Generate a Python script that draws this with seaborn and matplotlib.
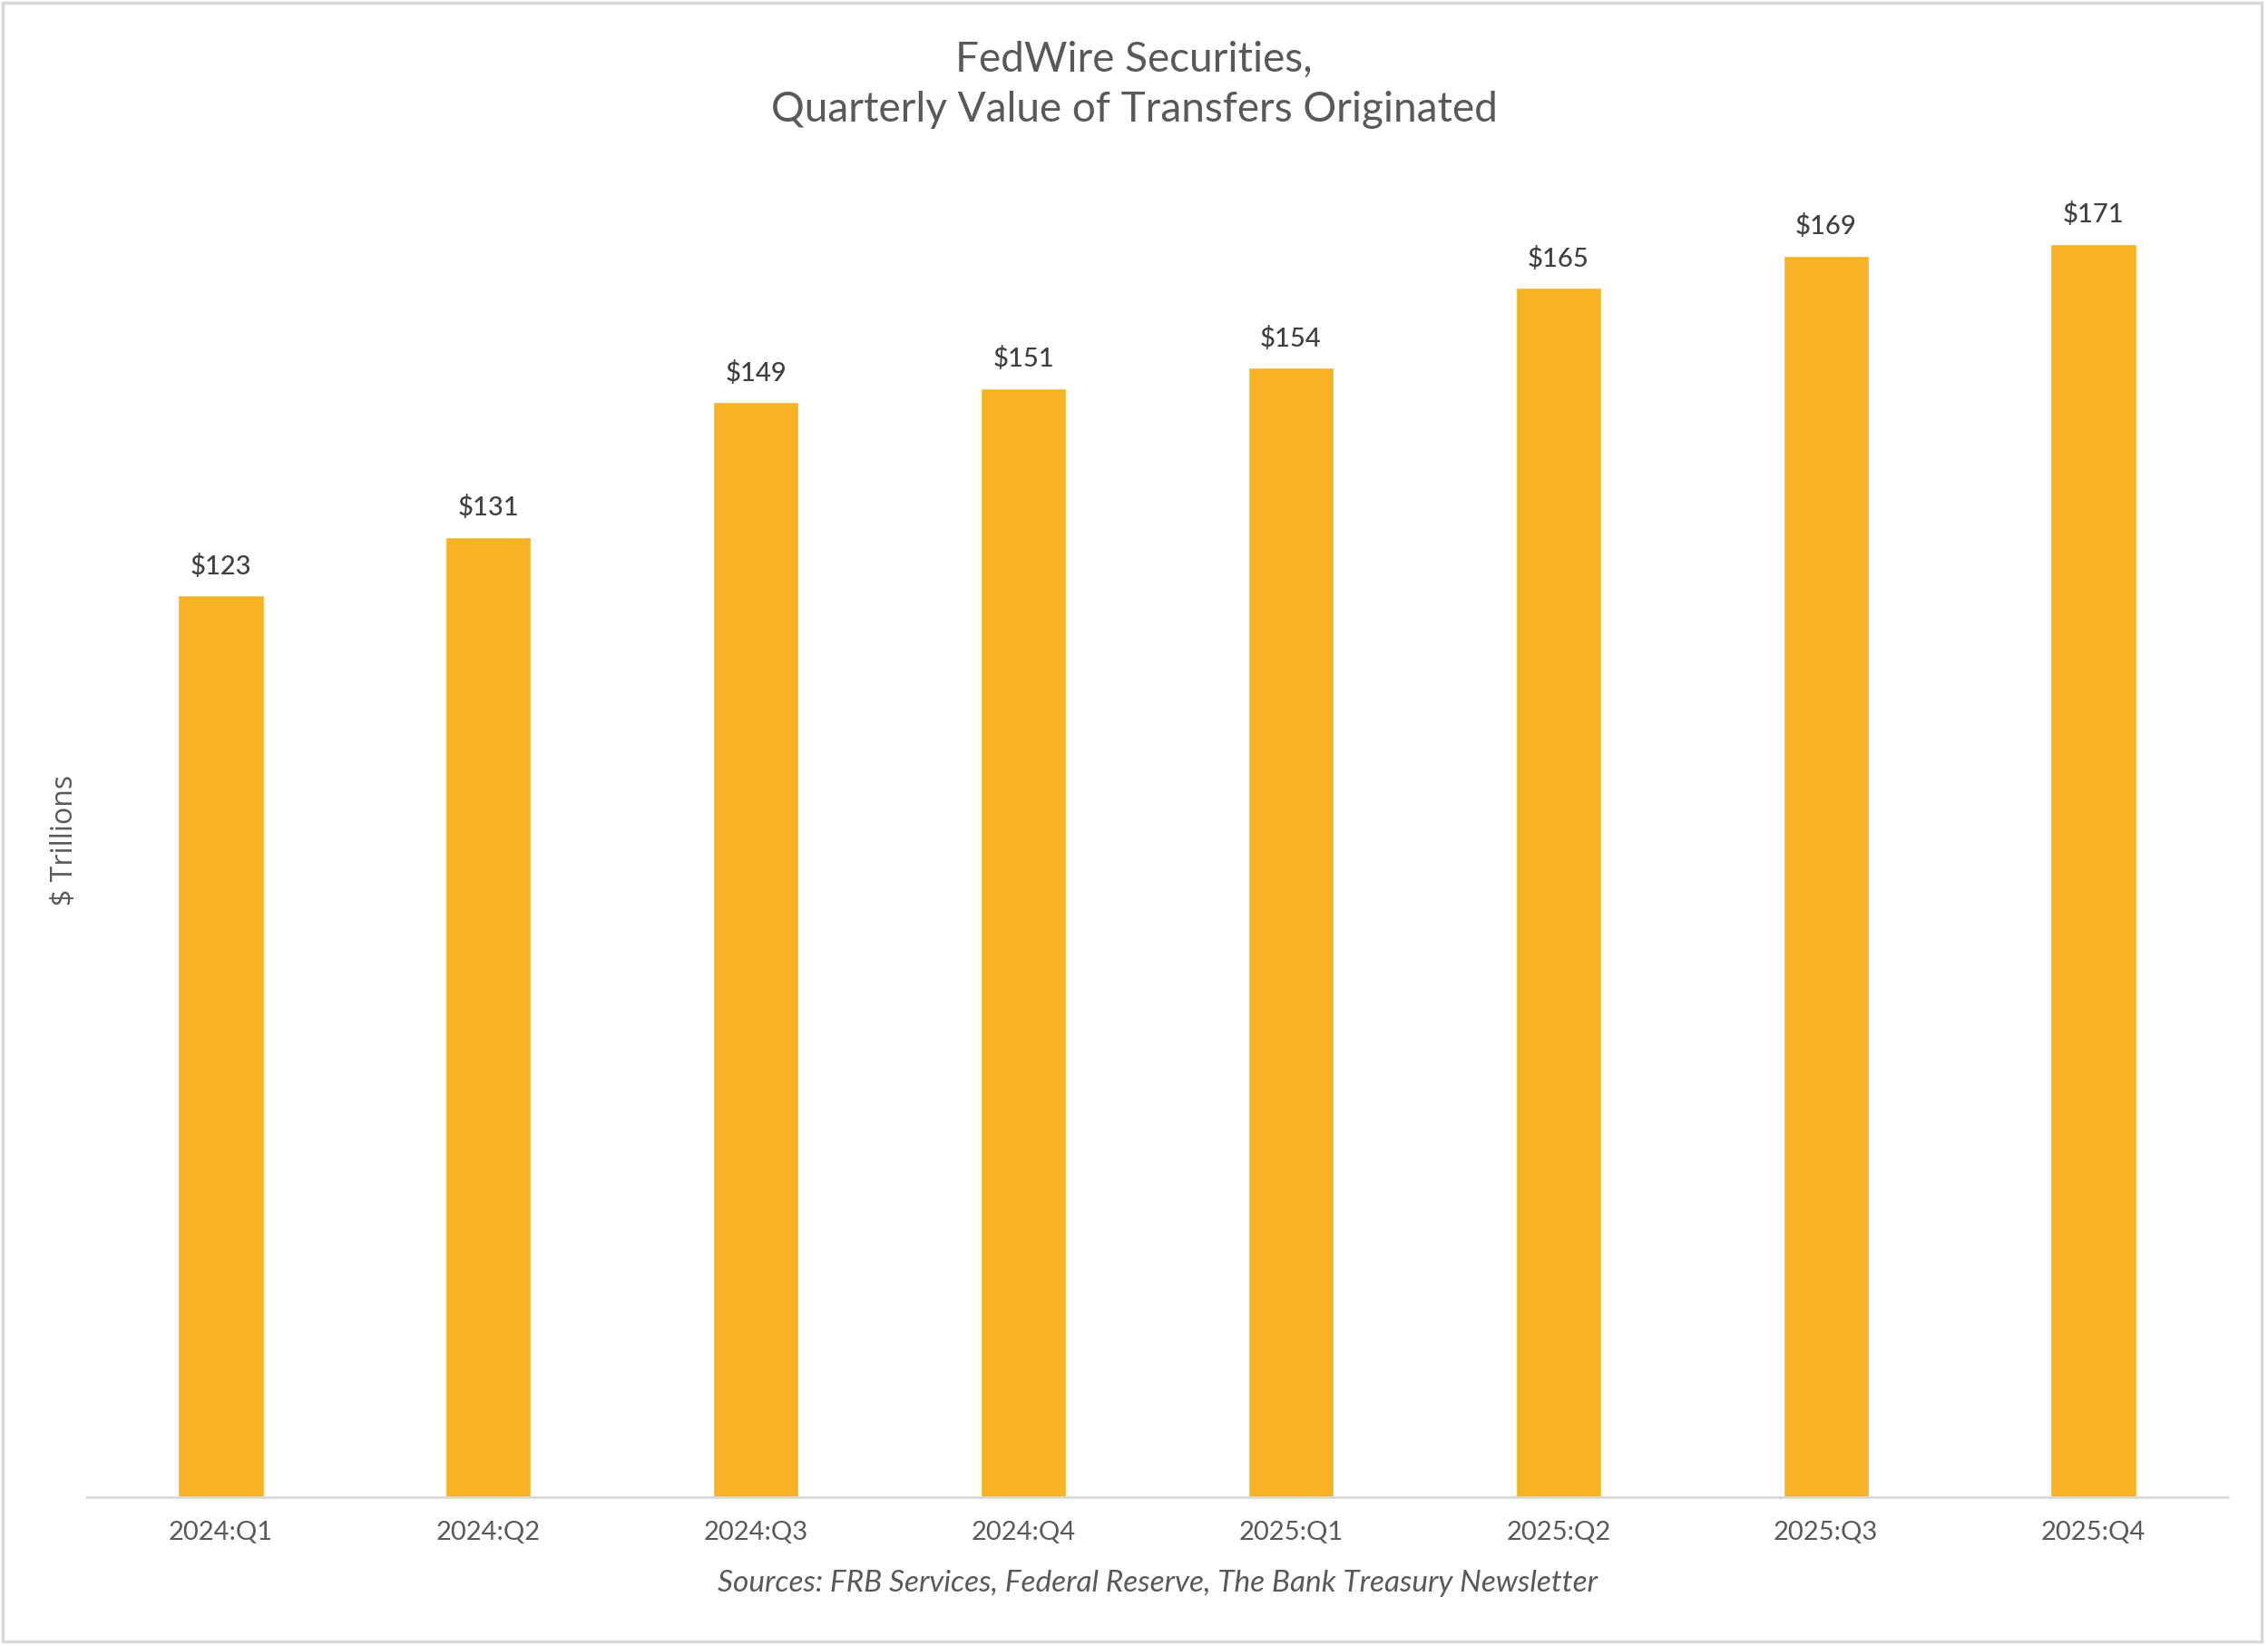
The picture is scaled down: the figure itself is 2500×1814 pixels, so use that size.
import numpy as np
import pandas as pd
import seaborn as sns
import matplotlib.pyplot as plt
from matplotlib.patches import Rectangle

sns.set_theme(style="white")
plt.rcParams['font.family'] = ['Lato', 'DejaVu Sans']

## data ($ trillions), bar heights
quarters = ["2024:Q1", "2024:Q2", "2024:Q3", "2024:Q4",
            "2025:Q1", "2025:Q2", "2025:Q3", "2025:Q4"]
values = [123, 131, 149.4, 151.3, 154.1, 165, 169.4, 171]

df = pd.DataFrame({"quarter": quarters, "value": values})

bar_color = "#F7B324"
text_grey = "#595959"

fig = plt.figure(figsize=(25, 18.15), dpi=100)
ax = fig.add_axes([0.0384, 0.0904, 0.9436, 0.8011])

sns.barplot(data=df, x="quarter", y="value", color=bar_color, saturation=1,
            width=0.32, ax=ax)

ax.set_ylim(0, 180)
ax.set_xlim(-0.5, len(quarters) - 0.5)

# value labels above bars
ax.bar_label(ax.containers[0], labels=[f"${v:.0f}" for v in values], padding=14,
             fontsize=21, color="#404040", fontweight="medium")

# axes styling
for side in ["top", "right", "left"]:
    ax.spines[side].set_visible(False)
ax.spines["bottom"].set_color("#d9d9d9")
ax.spines["bottom"].set_linewidth(2)
ax.set_yticks([])
ax.tick_params(axis="x", length=0, pad=18, labelsize=21, labelcolor=text_grey)
ax.set_xlabel("")
ax.set_ylabel("")

# y label in a different font
fig.text(0.0288, 1 - 926 / 1815, "$ Trillions", rotation=90, ha="center", va="center",
         fontsize=23, color=text_grey, family=["Open Sans", "DejaVu Sans"])

# title
fig.text(0.5, 1 - 93 / 1815, "FedWire Securities,\nQuarterly Value of Transfers Originated",
         ha="center", va="center", fontsize=33, color=text_grey, linespacing=1.4)

# source note
fig.text(0.5104, 1 - 1745 / 1815,
         "Sources: FRB Services, Federal Reserve, The Bank Treasury Newsletter",
         ha="center", va="center", fontsize=24, style="italic", color=text_grey)

# light border around the chart area
fig.patches.append(Rectangle((0.001, 0.003), 0.996, 0.995, transform=fig.transFigure,
                             fill=False, edgecolor="#d9d9d9", linewidth=2.5))

fig.savefig("out.png", dpi=100)
